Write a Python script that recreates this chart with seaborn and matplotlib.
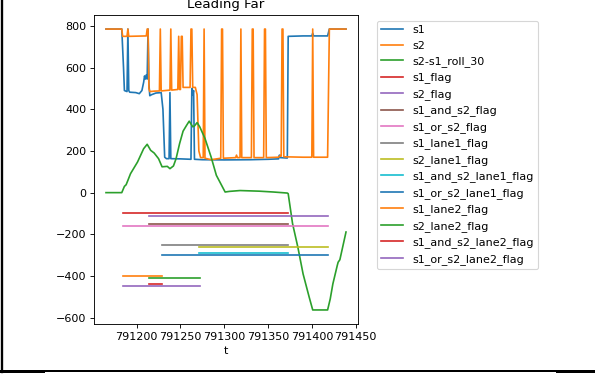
import matplotlib
matplotlib.use("Agg")
import matplotlib.pyplot as plt
import seaborn as sns
from matplotlib.lines import Line2D

# --- series: s1 ---------------------------------------------------------
s1_t = [791165, 791183, 791185, 791186, 791189, 791190, 791191, 791192, 791199,
        791203, 791206, 791208, 791209, 791210, 791211, 791212, 791213, 791214,
        791215, 791217, 791222, 791228, 791230, 791232, 791234, 791237, 791238,
        791239, 791250, 791262, 791263, 791264, 791265, 791266, 791275, 791300,
        791330, 791350, 791362, 791363, 791364, 791372, 791373, 791390, 791400,
        791401, 791402, 791418, 791420, 791439]
s1_v = [785, 785, 600, 490, 485, 785, 490, 482, 480,
        475, 490, 530, 560, 545, 565, 545, 785, 520,
        465, 470, 478, 480, 400, 170, 163, 163, 480,
        163, 162, 160, 500, 470, 490, 160, 158, 157,
        158, 160, 162, 180, 168, 166, 750, 752, 752,
        765, 752, 752, 785, 785]

# --- series: s2 ---------------------------------------------------------
s2_t = [791165, 791183, 791184, 791189, 791190, 791191, 791211, 791212, 791213,
        791214, 791215, 791220, 791226, 791227, 791228, 791238, 791239, 791240,
        791247, 791248, 791249, 791250, 791251, 791252, 791253, 791261, 791262,
        791263, 791264, 791267, 791269, 791271, 791273, 791276, 791277, 791278,
        791285, 791296, 791297, 791298, 791299, 791313, 791314, 791315, 791318,
        791319, 791320, 791331, 791332, 791333, 791334, 791345, 791346, 791347,
        791348, 791362, 791364, 791365, 791366, 791367, 791368, 791390, 791400,
        791401, 791402, 791418, 791420, 791439]
s2_v = [785, 785, 750, 750, 785, 750, 752, 785, 785,
        500, 485, 487, 488, 785, 488, 492, 785, 492,
        495, 750, 495, 495, 750, 750, 505, 505, 785,
        785, 505, 505, 470, 200, 168, 168, 785, 165,
        158, 165, 785, 785, 165, 168, 180, 168, 168,
        785, 168, 168, 785, 785, 168, 168, 785, 785,
        168, 170, 178, 175, 785, 785, 172, 170, 170,
        785, 170, 170, 785, 785]

# --- series: rolling difference -----------------------------------------
g_t = [791165, 791183, 791186, 791188, 791190, 791193, 791201, 791208, 791212,
       791216, 791220, 791225, 791229, 791235, 791238, 791242, 791245, 791249,
       791253, 791257, 791260, 791264, 791266, 791269, 791272, 791278, 791285,
       791291, 791297, 791301, 791306, 791318, 791340, 791356, 791372, 791373,
       791378, 791384, 791390, 791397, 791401, 791418, 791421, 791424, 791429,
       791430, 791432, 791439]
g_v = [0, 0, 30, 38, 59, 91, 147, 211, 232,
       203, 190, 163, 124, 126, 115, 128, 163, 235,
       295, 323, 343, 316, 320, 336, 316, 260, 171,
       83, 35, 3, 6, 10, 7, 3, -2, -5,
       -149, -261, -390, -502, -563, -563, -510, -438, -350,
       -334, -322, -189]

# --- flag bands ---------------------------------------------------------
flag_names = ["s1_flag", "s2_flag", "s1_and_s2_flag", "s1_or_s2_flag",
              "s1_lane1_flag", "s2_lane1_flag", "s1_and_s2_lane1_flag",
              "s1_or_s2_lane1_flag", "s1_lane2_flag", "s2_lane2_flag",
              "s1_and_s2_lane2_flag", "s1_or_s2_lane2_flag"]
flag_values = [-100, -110, -150, -160, -250, -260, -290, -300,
               -400, -410, -440, -450]
flag_start = [791184, 791214, 791214, 791184, 791229, 791271, 791271, 791229,
              791184, 791214, 791214, 791184]
flag_end = [791373, 791419, 791373, 791419, 791373, 791419, 791373, 791419,
            791229, 791272, 791229, 791272]

W, H, DPI = 595, 385, 80
fig = plt.figure(figsize=(W / DPI, H / DPI), dpi=DPI)
fig.patch.set_facecolor("white")
ax = fig.add_axes([94 / W, 1 - 324 / H, (358 - 94) / W, (324 - 15) / H])

palette = sns.color_palette("tab10")
common = dict(ax=ax, sort=False, estimator=None, linewidth=1.5)

sns.lineplot(x=s1_t, y=s1_v, color=palette[0], label="s1", **common)
sns.lineplot(x=s2_t, y=s2_v, color=palette[1], label="s2", **common)
sns.lineplot(x=g_t, y=g_v, color=palette[2], label="s2-s1_roll_30", **common)

for i, (name, val, t0, t1) in enumerate(zip(flag_names, flag_values,
                                            flag_start, flag_end)):
    sns.lineplot(x=[t0, t1], y=[val, val], color=palette[(i + 3) % 10],
                 label=name, **common)

ax.set_xlabel("t")
ax.set_ylabel("")
ax.set_title("Leading Far")
ax.set_xticks([791200, 791250, 791300, 791350, 791400, 791450])
ax.set_yticks([-600, -400, -200, 0, 200, 400, 600, 800])
ax.ticklabel_format(axis="x", style="plain", useOffset=False)
ax.legend(loc="upper left", bbox_to_anchor=(1.05, 1.0))

# page frame around the figure
lw2 = 2 * 72 / DPI
lw3 = 3 * 72 / DPI
fig.add_artist(Line2D([2.2 / W, 2.2 / W], [1.0, 1 - 372.3 / H],
                      transform=fig.transFigure, color="black", linewidth=lw2 + 0.3))
fig.add_artist(Line2D([0, 1], [1 - 371.3 / H, 1 - 371.3 / H],
                      transform=fig.transFigure, color="black", linewidth=lw2))
fig.add_artist(Line2D([0, 43 / W], [1 - 370.8 / H, 1 - 370.8 / H],
                      transform=fig.transFigure, color="black", linewidth=lw3))
fig.add_artist(Line2D([557 / W, 1], [1 - 370.8 / H, 1 - 370.8 / H],
                      transform=fig.transFigure, color="black", linewidth=lw3))

fig.savefig("out.png", dpi=DPI)
